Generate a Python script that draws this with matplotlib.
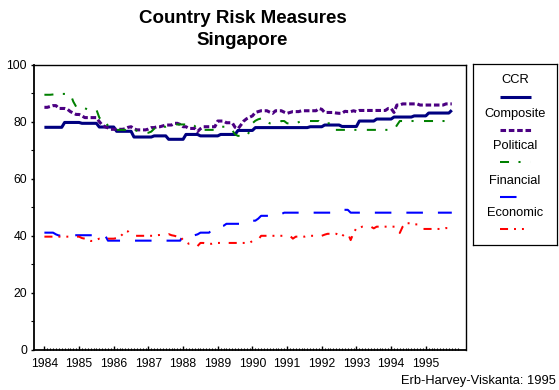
import matplotlib
matplotlib.use("Agg")
import matplotlib.pyplot as plt
from matplotlib.ticker import FixedLocator
import numpy as np
import pandas as pd

plt.rcParams['font.family'] = ['Liberation Sans', 'DejaVu Sans']
plt.rcParams['lines.scale_dashes'] = False

# monthly observations, Jan 1984 .. Oct 1995
months = pd.date_range("1984-01-01", "1995-10-01", freq="MS")
t = months.year + (months.month - 1) / 12.0

ccr = [
    78, 78, 78, 78, 78, 78, 78, 79.7, 79.7, 79.7, 79.7, 79.7,
    79.7, 79.4, 79.4, 79.4, 79.4, 79.4, 79.4, 78.1, 78.1, 78.1, 78.1, 78.1,
    78.1, 76.6, 76.6, 76.6, 76.6, 76.6, 76.6, 74.6, 74.6, 74.6, 74.6, 74.6,
    74.6, 74.6, 75, 75, 75, 75, 75, 73.8, 73.8, 73.8, 73.8, 73.8,
    73.8, 75.5, 75.5, 75.5, 75.5, 75.5, 75, 75, 75, 75, 75, 75,
    75, 75.5, 75.5, 75.5, 75.5, 75.5, 75.5, 76.9, 76.9, 76.9, 76.9, 76.9,
    76.9, 77.9, 77.9, 77.9, 77.9, 77.9, 77.9, 77.9, 77.9, 77.9, 77.9, 77.9,
    77.9, 77.9, 77.9, 77.9, 77.9, 77.9, 77.9, 77.9, 78.2, 78.2, 78.2, 78.2,
    78.2, 78.8, 78.8, 78.8, 78.8, 78.8, 78.8, 78.3, 78.3, 78.3, 78.3, 78.3,
    78.3, 80.2, 80.2, 80.2, 80.2, 80.2, 80.2, 80.9, 80.9, 80.9, 80.9, 80.9,
    80.9, 81.6, 81.6, 81.6, 81.6, 81.6, 81.6, 81.6, 82, 82, 82, 82,
    82, 83, 83, 83, 83, 83, 83, 83, 83, 84,
]
composite = [
    85, 85, 85.3, 85.6, 85.6, 84.6, 84.6, 84.6, 84.3, 83.5, 83, 82.5,
    82.5, 82, 81.4, 81.4, 81.4, 81.4, 81.4, 80, 78.8, 78.2, 77.8, 77.3,
    77.3, 77.3, 77.3, 77.3, 77.5, 78, 78.2, 77.5, 77.1, 77.1, 77.1, 77.1,
    77.4, 77.9, 77.9, 78.2, 78.2, 78.5, 78.8, 78.8, 78.8, 79.4, 79.4, 79.0,
    78.2, 78.2, 77.6, 77.6, 77.6, 76.5, 77.5, 78.2, 78.2, 78.2, 78.2, 78.2,
    80.2, 80.2, 80.2, 79.6, 79.6, 79.6, 78.0, 77.5, 78.8, 80.2, 81.0, 81.5,
    82.0, 83.2, 83.5, 83.8, 83.8, 83.8, 83.3, 82.9, 83.8, 83.8, 83.8, 83.3,
    82.9, 83.2, 83.5, 83.5, 83.5, 83.8, 83.8, 83.8, 83.8, 83.8, 83.8, 84.6,
    84.3, 83.2, 83.2, 83.2, 83.2, 83.0, 82.9, 82.9, 83.6, 83.5, 83.5, 83.8,
    83.5, 83.9, 83.9, 83.9, 83.9, 83.9, 83.9, 83.9, 83.9, 83.9, 83.9, 84.6,
    84.6, 83.2, 85.8, 85.8, 86.2, 86.2, 86.2, 86.2, 86.2, 86.2, 85.8, 85.8,
    85.8, 85.8, 85.8, 85.8, 85.8, 85.8, 85.8, 86.2, 86.2, 86.2,
]
political = [
    89.4, 89.4, 89.4, 89.5, 89.6, 89.7, 89.7, 89.7, 89.7, 89.7, 87, 85.2,
    85.2, 85.2, 84.7, 84.2, 84.2, 84.2, 84.2, 81.4, 80.3, 80.3, 78.5, 77.5,
    77.1, 77.1, 77.1, 77.1, 77.1, 77.1, 77.1, 77.1, 76.8, 76.5, 76.3, 76.1,
    76.1, 76.5, 77.5, 78.2, 78.2, 78.2, 78.2, 78.5, 78.8, 79, 79, 79,
    79, 79, 79, 79.2, 78.5, 77.2, 77.1, 77.1, 77.1, 77.1, 77.1, 77.1,
    77.5, 78.2, 78.2, 78.2, 78.2, 77.0, 75.5, 75, 75, 75, 75, 76.5,
    79.4, 80.3, 80.8, 81.1, 81.1, 80, 79.4, 79.4, 79.4, 79.4, 80.2, 80.2,
    79.4, 79.4, 79.4, 79.4, 79.8, 80.2, 80.2, 80.2, 80.2, 80.2, 80.2, 80.2,
    79.4, 79.4, 79.4, 79.4, 77.1, 77.1, 77.1, 77.1, 77.1, 77.1, 77.1, 77.1,
    77.1, 77.1, 77.1, 77.1, 77.1, 77.1, 77.1, 77.1, 77.1, 77.1, 77.1, 77.1,
    77.1, 77.1, 78.7, 80.2, 80.2, 80.2, 80.2, 80.2, 80.2, 80.2, 80.2, 80.2,
    80.2, 80.2, 80.2, 80.2, 80.2, 80.2, 80.2, 80.2, 80.2, 80.2,
]
financial = [
    41.1, 41.1, 41.1, 41.1, 40.5, 40.1, 40.1, 40.1, 40.1, 40.1, 40.1, 40.2,
    40.2, 40.2, 40.2, 40.2, 40.2, 40.2, 40.2, 40.2, 40.2, 40.2, 38.3, 38.3,
    38.3, 38.3, 38.3, 38.3, 38.3, 38.3, 38.3, 38.3, 38.3, 38.3, 38.3, 38.3,
    38.3, 38.3, 38.3, 38.3, 38.3, 38.3, 38.3, 38.3, 38.3, 38.3, 38.3, 38.3,
    40.2, 40.2, 40.2, 40.2, 40.2, 40.5, 41.1, 41.1, 41.1, 41.1, 42.2, 43.2,
    43.2, 43.2, 43.5, 44.2, 44.2, 44.2, 44.2, 44.2, 44.2, 44.8, 45.3, 45.3,
    45.3, 45.3, 46.0, 47, 47, 47, 47, 47, 47, 47, 47.6, 48.1,
    48.1, 48.1, 48.1, 48.1, 48.1, 48.1, 48.1, 48.1, 48.1, 48.1, 48.1, 48.1,
    48.1, 48.1, 48.1, 48.1, 48.1, 48.6, 49.1, 49.1, 49.1, 49.1, 48.1, 48.1,
    48.1, 48.1, 48.1, 48.1, 48.1, 48.1, 48.1, 48.1, 48.1, 48.1, 48.1, 48.1,
    48.1, 48.1, 48.1, 48.1, 48.1, 48.1, 48.1, 48.1, 48.1, 48.1, 48.1, 48.1,
    48.1, 48.1, 48.1, 48.1, 48.1, 48.1, 48.1, 48.1, 48.1, 48.1,
]
economic = [
    39.7, 39.7, 39.7, 39.7, 39.7, 39.7, 39.7, 39.7, 39.7, 39.7, 39.7, 39.7,
    39.7, 39.2, 39.0, 38.5, 38.2, 38.2, 38.6, 39, 39, 38.6, 39, 39,
    39, 39.2, 39.5, 40.5, 41.7, 41.5, 40.5, 40, 40, 40, 40, 40,
    40, 40, 40, 40.2, 40.3, 40.3, 40.3, 40.6, 40.2, 40.0, 39.7, 39.7,
    38.5, 37.8, 37.2, 37.2, 37.0, 36.4, 37.5, 37.5, 37.3, 37.2, 37.2, 37.4,
    37.5, 37.5, 37.5, 37.5, 37.5, 37.5, 37.5, 37.5, 37.5, 37.5, 37.5, 37.5,
    38.2, 38.2, 38.6, 40, 40, 40, 40, 40, 40, 40, 40, 40,
    40, 40, 39, 39.7, 39.7, 39.7, 39.7, 40, 40, 40, 40, 40,
    40, 40.4, 40.7, 40.7, 40.7, 40.7, 40.2, 39.7, 41, 41, 38.5, 41,
    42.7, 42.7, 43.2, 43.2, 43.2, 43.2, 42.6, 43.2, 43.2, 43.2, 43.2, 43.2,
    43.2, 43.2, 43.2, 41, 43.2, 44.4, 44.4, 44.4, 44, 44, 44, 42.4,
    42.4, 42.4, 42.4, 42.4, 42.4, 42.4, 42.4, 42.7, 42.7, 42.7,
]

names = ["CCR", "Composite", "Political", "Financial", "Economic"]
colors = ["#000080", "#4B0082", "#008000", "#0000FF", "#FF0000"]
widths = [2.2, 2.2, 1.45, 1.5, 1.45]
dashes = [None, (4.0, 2.0), (6.5, 6.8, 1.5, 7.5), (11.9, 10.8),
          (5.8, 4.3, 1.4, 4.3, 1.4, 6.3)]
series = [ccr, composite, political, financial, economic]

fig = plt.figure(figsize=(5.59, 3.90), dpi=100)
ax = fig.add_axes([34 / 559, 40 / 390, 432 / 559, 285.5 / 390])

for vals, c, lw, d in zip(series, colors, widths, dashes):
    line, = ax.plot(t, vals, color=c, lw=lw, solid_capstyle="butt")
    if d is not None:
        line.set_dashes(d)

ax.set_xlim(1983.70, 1996.16)
ax.set_ylim(0, 100)
ax.set_xticks(range(1984, 1996))
ax.xaxis.set_minor_locator(FixedLocator(1984 + np.arange(144) / 12.0))
ax.set_yticks(range(0, 101, 20))
ax.yaxis.set_minor_locator(FixedLocator(range(10, 100, 20)))
ax.tick_params(axis="x", which="major", direction="in", length=3.2, width=1.0,
               pad=5.5, labelsize=8.8, top=False)
ax.tick_params(axis="x", which="minor", direction="in", length=1.8, width=0.8, top=False)
ax.tick_params(axis="y", which="major", direction="out", length=2.2, width=1.0,
               pad=2.9, labelsize=8.8, right=False)
ax.tick_params(axis="y", which="minor", direction="out", length=2.0, width=0.8, right=False)
for s in ["left", "bottom"]:
    ax.spines[s].set_linewidth(1.3)
for s in ["top", "right"]:
    ax.spines[s].set_linewidth(1.0)

# title
fig.text(242.5 / 559, 1 - 23 / 390, "Country Risk Measures", ha="center",
         va="baseline", fontsize=13.5, fontweight="bold")
fig.text(242.5 / 559, 1 - 45 / 390, "Singapore", ha="center",
         va="baseline", fontsize=13.5, fontweight="bold")

# legend box
lax = fig.add_axes([473 / 559, 1 - 245 / 390, 84 / 559, 181 / 390])
lax.set_xlim(0, 84)
lax.set_ylim(181, 0)
lax.set_xticks([])
lax.set_yticks([])
for s in lax.spines.values():
    s.set_linewidth(0.9)
text_y = [16, 50, 82, 117, 149]
line_y = [32.7, 66.3, 98.3, 133.3, 165.3]
for name, c, lw, d, ty, ly in zip(names, colors, widths, dashes, text_y, line_y):
    lax.text(42, ty, name, ha="center", va="center", fontsize=9.3)
    ln, = lax.plot([26.5, 57.5], [ly, ly], color=c, lw=lw, solid_capstyle="butt")
    if d is not None:
        ln.set_dashes(d)

fig.text(556 / 559, 1 - 384 / 390, "Erb-Harvey-Viskanta: 1995", ha="right",
         va="baseline", fontsize=9.3)

fig.savefig("out.png", dpi=100)
